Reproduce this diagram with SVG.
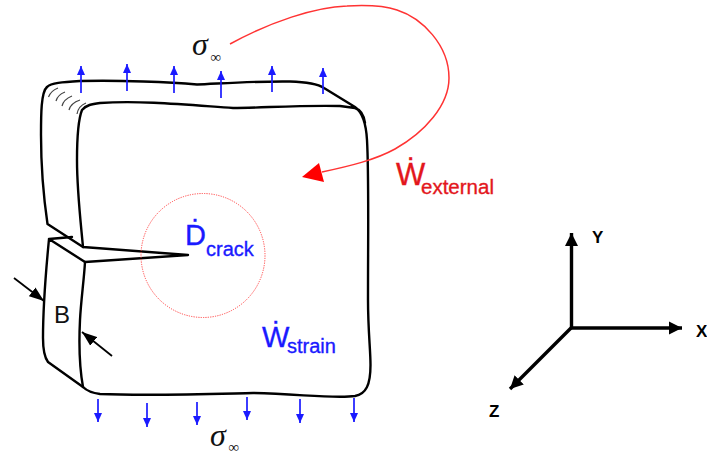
<svg xmlns="http://www.w3.org/2000/svg" width="707" height="457" viewBox="0 0 707 457">
<style>
.o{fill:none;stroke:#000;stroke-width:2.4;stroke-linejoin:round;stroke-linecap:round}
.s{fill:none;stroke:#444;stroke-width:1.2}
.bl{stroke:#1a1aff;stroke-width:1.7}
.t{font-family:"Liberation Sans",Arial,sans-serif;stroke-width:.35}
.sig{font-family:"Liberation Serif","DejaVu Serif",serif;font-style:italic;font-size:32px;fill:#111}
.inf{font-family:"Liberation Serif","DejaVu Serif",serif;font-size:15px;fill:#111}
.ax{stroke:#000;stroke-width:3.4}
.axl{font-family:"Liberation Sans",Arial,sans-serif;font-weight:bold;font-size:17px;fill:#000}
.red{fill:#e3161c;stroke:#e3161c}
.blu{fill:#1a1aff;stroke:#1a1aff}
</style>
<defs>
<marker id="b" markerUnits="userSpaceOnUse" markerWidth="9" markerHeight="9" refX="9" refY="4" orient="auto"><path d="M0 0L9 4L0 8Z" fill="#1a1aff"/></marker>
<marker id="k" markerUnits="userSpaceOnUse" markerWidth="15" markerHeight="12" refX="15" refY="6" orient="auto"><path d="M0 0.500L15 6L0 11.500Z" fill="#000"/></marker>
<marker id="a" markerUnits="userSpaceOnUse" markerWidth="14" markerHeight="14" refX="13" refY="7" orient="auto"><path d="M0 0.500L13 7L0 13.500Z" fill="#000"/></marker>
</defs>
<g id="plate">
<path class="o" d="M47 87C51 83 62 82 80 81C120 80 170 82 197 84.500C215 84 250 81 290 81.500C310 82 318 84 324 88L355 107C362 112 366 122 367 140C369 175 368 230 368 300C368 330 370.500 350 370.500 365C370.500 385 366 394 355 396C335 399 300 394 253 393C210 394 150 396 100 394C92 393 87 391 83 387C79 365 79 340 80 320C81 300 84 280 85 262L188 255L83 247C80 215 77 190 77 160C77 140 78 120 82 110C86 105 92 104 100 103C140 100 190 105 233 108C260 108 300 105 340 106L355 108C361 110 364 116 365 123"/>
<path class="o" d="M47 87C41 92 41 115 41 135C41 170 44 200 47.500 224L83 247"/>
<path class="o" d="M49 239L72 237M49 239L85 262M49 239C46 270 43 310 43 338C43 350 45 358 48 362L83 387"/>
<path class="s" d="M48.500 97C50 93 53 90 58 88M56 101C57 97 60 94 65 92M62 106C63 102 67 98 72 96M69 110C70 106 74 102 80 100M77 114C78 108 81 105 86 103"/>
</g>
<g id="connectors">
<g class="bl">
<line x1="81" y1="93" x2="81" y2="66" marker-end="url(#b)"/><line x1="127" y1="91" x2="127" y2="64" marker-end="url(#b)"/><line x1="174" y1="93" x2="174" y2="66" marker-end="url(#b)"/><line x1="221" y1="98" x2="221" y2="71" marker-end="url(#b)"/><line x1="272" y1="92" x2="272" y2="66" marker-end="url(#b)"/><line x1="323" y1="94" x2="323" y2="68" marker-end="url(#b)"/>
<line x1="98" y1="399" x2="98" y2="422" marker-end="url(#b)"/><line x1="147" y1="403" x2="147" y2="427" marker-end="url(#b)"/><line x1="197" y1="402" x2="197" y2="425" marker-end="url(#b)"/><line x1="247" y1="397" x2="247" y2="420" marker-end="url(#b)"/><line x1="300" y1="399" x2="300" y2="423" marker-end="url(#b)"/><line x1="354" y1="398" x2="354" y2="422" marker-end="url(#b)"/>
</g>
<path d="M230 44C270 22 315 7 347 6C365 5 385 6 397 10C422 18 449 45 449 78C449 105 425 132 395 149C375 160 350 166 322 172" fill="none" stroke="#f33" stroke-width="1.500"/>
<path d="M302 177L319 163L324 182Z" fill="#f00"/>
<line x1="14" y1="278" x2="44" y2="301" stroke="#000" stroke-width="1.800" marker-end="url(#k)"/>
<line x1="112" y1="356" x2="82" y2="332" stroke="#000" stroke-width="1.800" marker-end="url(#k)"/>
<line class="ax" x1="571.500" y1="328" x2="571.500" y2="233" marker-end="url(#a)"/>
<line class="ax" x1="570" y1="328" x2="682" y2="328" marker-end="url(#a)"/>
<line class="ax" x1="572" y1="327" x2="510" y2="389" marker-end="url(#a)"/>
</g>
<g id="crack-zone"><circle cx="203" cy="255.500" r="62" fill="none" stroke="#f44" stroke-width="1" stroke-dasharray="1.200 1.200"/></g>
<g id="labels">
<text class="sig" x="192" y="55">σ</text><text class="inf" x="210.500" y="62">∞</text>
<text class="sig" x="210" y="446">σ</text><text class="inf" x="228.500" y="452">∞</text>
<text class="t red" x="396" y="185" font-size="31">Ẇ</text><text class="t red" x="421" y="194" font-size="20.500">external</text>
<text class="t blu" x="185" y="245" font-size="29">Ḋ</text><text class="t blu" x="206" y="256" font-size="20">crack</text>
<text class="t blu" x="262" y="347" font-size="29">Ẇ</text><text class="t blu" x="287" y="353" font-size="20">strain</text>
<text class="t" x="54" y="323" font-size="24" fill="#111">B</text>
<text class="axl" x="592" y="243">Y</text><text class="axl" x="696" y="337">X</text><text class="axl" x="489" y="417">Z</text>
</g>
</svg>
